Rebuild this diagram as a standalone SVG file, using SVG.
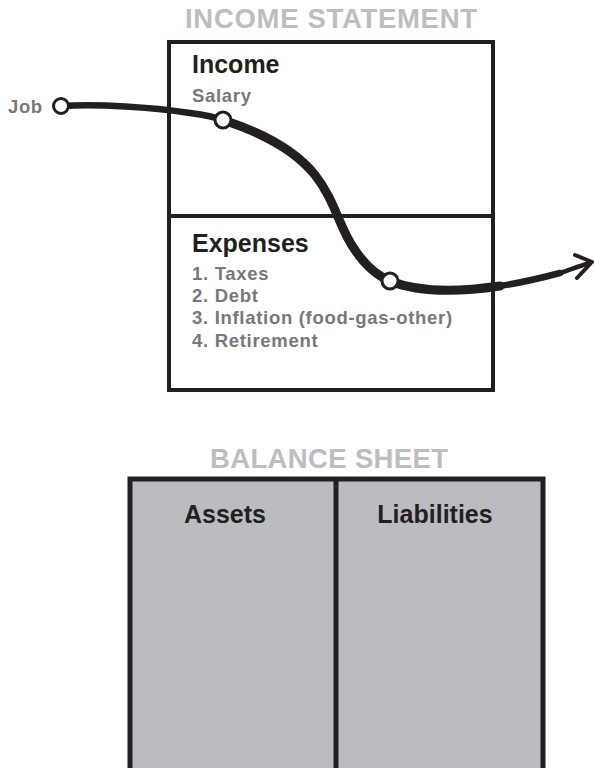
<svg xmlns="http://www.w3.org/2000/svg" width="594" height="768" viewBox="0 0 594 768">
<style>
text{font-family:"Liberation Sans",Arial,Helvetica,sans-serif;font-weight:bold}
.title{font-size:27.5px;fill:#bcbdc0}
.head{font-size:25px;fill:#231f20}
.sub{font-size:18.5px;fill:#77787b;letter-spacing:0.7px}
.box{fill:#fff;stroke:#231f20;stroke-width:4}
.bbox{fill:#bbbcc0;stroke:#231f20;stroke-width:5}
.line{stroke:#231f20;stroke-width:4;fill:none}
.pt{fill:#fff;stroke:#231f20;stroke-width:3}
</style>
<rect width="594" height="768" fill="#fff"/>
<g id="income-statement">
<text class="title" x="331" y="28" text-anchor="middle" textLength="292">INCOME STATEMENT</text>
<rect class="box" x="169" y="42" width="324" height="348"/>
<line class="line" x1="169" y1="216" x2="493" y2="216"/>
</g>
<g id="income">
<text class="head" x="192" y="73">Income</text>
<text class="sub" x="192" y="102">Salary</text>
</g>
<g id="expenses">
<text class="head" x="192" y="252">Expenses</text>
<text class="sub" x="192" y="280">1. Taxes</text>
<text class="sub" x="192" y="302">2. Debt</text>
<text class="sub" x="192" y="324">3. Inflation (food-gas-other)</text>
<text class="sub" x="192" y="347">4. Retirement</text>
</g>
<g id="job">
<text class="sub" x="8" y="113" style="letter-spacing:0.6px">Job</text>
</g>
<g id="balance-sheet">
<text class="title" x="329" y="468" text-anchor="middle" textLength="238">BALANCE SHEET</text>
<rect class="bbox" x="130" y="479" width="413" height="320"/>
<line x1="336" y1="479" x2="336" y2="768" stroke="#231f20" stroke-width="5"/>
</g>
<g id="assets">
<text class="head" x="225" y="523" text-anchor="middle">Assets</text>
</g>
<g id="liabilities">
<text class="head" x="435" y="523" text-anchor="middle">Liabilities</text>
</g>
<g id="connectors" fill="none" stroke="#231f20" stroke-linecap="round" stroke-linejoin="round">
<path d="M61,106 C100,104 150,107 190,113 C205,115 215,117 223,120" stroke-width="6.5"/>
<path d="M223,120 C260,132 295,150 315,175 C335,200 340,230 355,250 C365,265 378,276 390,281 C420,293 460,292 500,286" stroke-width="9"/>
<path d="M500,286 C525,282 545,277 560,273" stroke-width="6.5"/>
<path d="M560,273 C572,269 582,265 590,263" stroke-width="4.5"/>
<polyline points="575,255 592,262 577,278" stroke-width="4"/>
</g>
<g id="points">
<circle class="pt" cx="61" cy="106" r="7.5"/>
<circle class="pt" cx="223" cy="120" r="8"/>
<circle class="pt" cx="390" cy="281" r="8"/>
</g>
</svg>
